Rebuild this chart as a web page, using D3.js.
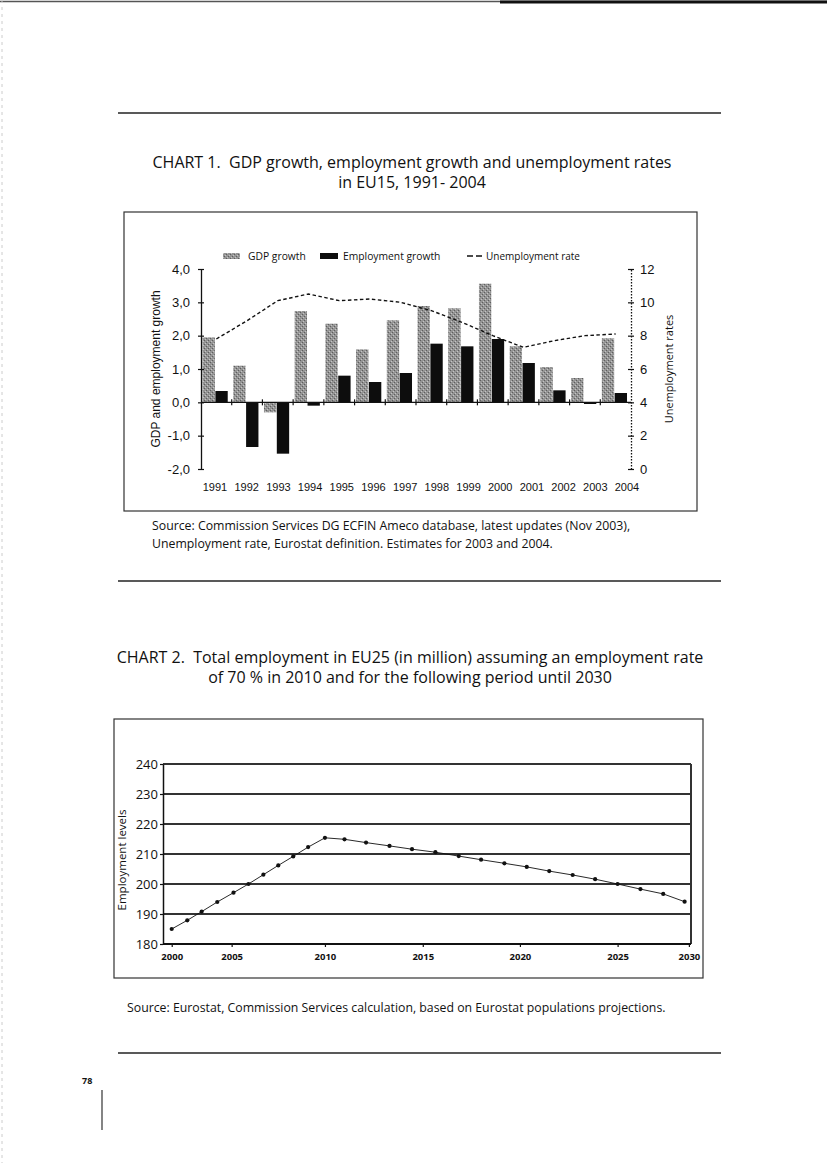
<!DOCTYPE html>
<html>
<head>
<meta charset="utf-8">
<script src="https://cdn.jsdelivr.net/npm/d3@7"></script>
<style>
  body { margin: 0; background: #fff; }
  svg text { fill: #111; }
</style>
</head>
<body>
<div id="page"></div>
<script>
// ---- chart 1 data (EU15, 1991-2004)
const years = [1991, 1992, 1993, 1994, 1995, 1996, 1997, 1998, 1999, 2000, 2001, 2002, 2003, 2004]
const gdpGrowth = [1.95, 1.1, -0.3, 2.74, 2.36, 1.59, 2.46, 2.89, 2.82, 3.56, 1.68, 1.06, 0.73, 1.92]
const empGrowth = [0.34, -1.34, -1.54, -0.1, 0.8, 0.61, 0.88, 1.76, 1.68, 1.9, 1.18, 0.36, -0.05, 0.28]
const unempRate = [7.8, 8.9, 10.1, 10.5, 10.1, 10.2, 10.0, 9.5, 8.8, 8.0, 7.3, 7.7, 8.0, 8.1]
const growthTicks = [-2, -1, 0, 1, 2, 3, 4]
const rateTicks = [0, 2, 4, 6, 8, 10, 12]

// ---- chart 2 data (EU25 employment, million)
const empYears = [2000, 2001.3, 2002.5, 2003.8, 2005.1, 2005.9, 2006.7, 2007.5, 2008.3, 2009.1, 2010,
  2011.0, 2012.1, 2013.3, 2014.45, 2015.65, 2016.85, 2018.0, 2019.2, 2020.35, 2021.5, 2022.7,
  2023.85, 2025.0, 2026.6, 2028.2, 2029.7]
const empLevels = [185.0, 187.9, 190.8, 194.0, 197.1, 200.0, 203.1, 206.2, 209.2, 212.3, 215.4,
  214.9, 213.8, 212.7, 211.6, 210.6, 209.3, 208.1, 206.9, 205.7, 204.3, 203.0,
  201.6, 200.0, 198.3, 196.7, 194.1]
const empTickYears = [2000, 2005, 2010, 2015, 2020, 2025, 2030]
const levelTicks = [180, 190, 200, 210, 220, 230, 240]

const W = 827, H = 1163
const humanist = "'Open Sans', 'Noto Sans', sans-serif"
const arial = "'Liberation Sans', Arial, sans-serif"

const svg = d3.select("#page").append("svg")
  .attr("width", W)
  .attr("height", H)

svg.append("rect").attr("width", W).attr("height", H).attr("fill", "#fff")

// stippled grey for the GDP bars
const pat = svg.append("defs").append("pattern")
  .attr("id", "stipple")
  .attr("patternUnits", "userSpaceOnUse")
  .attr("width", 4).attr("height", 4)
pat.append("rect").attr("width", 4).attr("height", 4).attr("fill", "#949494")
pat.append("rect").attr("x", 0).attr("y", 0).attr("width", 1).attr("height", 1).attr("fill", "#5e5e5e")
pat.append("rect").attr("x", 2).attr("y", 2).attr("width", 1).attr("height", 1).attr("fill", "#5e5e5e")
pat.append("rect").attr("x", 1).attr("y", 3).attr("width", 1).attr("height", 1).attr("fill", "#c4c4c4")
pat.append("rect").attr("x", 3).attr("y", 1).attr("width", 1).attr("height", 1).attr("fill", "#c4c4c4")

// ---- page furniture (scan edges, rules, page number)
svg.append("line").attr("x1", 0).attr("x2", W).attr("y1", 1.5).attr("y2", 1.5)
  .attr("stroke", "#555").attr("stroke-width", 1.5)
svg.append("line").attr("x1", 500).attr("x2", W).attr("y1", 2).attr("y2", 2)
  .attr("stroke", "#111").attr("stroke-width", 3)
svg.append("line").attr("x1", 2).attr("x2", 2).attr("y1", 0).attr("y2", H)
  .attr("stroke", "#ccc").attr("stroke-width", 1).attr("stroke-dasharray", "3,4")

const rules = [113, 581, 1053]
rules.forEach(y => {
  svg.append("line").attr("x1", 118).attr("x2", 721).attr("y1", y).attr("y2", y)
    .attr("stroke", "#222").attr("stroke-width", 1.3)
})
svg.append("text").attr("x", 82).attr("y", 1084)
  .style("font", "bold 9px " + humanist).text("78")
svg.append("line").attr("x1", 102).attr("x2", 102).attr("y1", 1090).attr("y2", 1130)
  .attr("stroke", "#333").attr("stroke-width", 1.2)

// ---- titles and sources
function textLines(lines, x, y0, lh, font, anchor) {
  lines.forEach((t, i) => {
    svg.append("text")
      .attr("x", x).attr("y", y0 + i * lh)
      .attr("text-anchor", anchor)
      .style("font", font)
      .style("white-space", "pre")
      .text(t)
  })
}
textLines(["CHART 1.\u00a0 GDP growth, employment growth and unemployment rates", "in EU15, 1991- 2004"],
  412, 168, 20, "16px " + humanist, "middle")
textLines(["Source: Commission Services DG ECFIN Ameco database, latest updates (Nov 2003),",
  "Unemployment rate, Eurostat definition. Estimates for 2003 and 2004."],
  152, 530, 18, "12.3px " + humanist, "start")
textLines(["CHART 2.\u00a0 Total employment in EU25 (in million) assuming an employment rate",
  "of 70 % in 2010 and for the following period until 2030"],
  410, 663, 20, "16px " + humanist, "middle")
textLines(["Source: Eurostat, Commission Services calculation, based on Eurostat populations projections."],
  127, 1012, 18, "12.3px " + humanist, "start")

// ================= CHART 1 =================
const c1 = { left: 201, right: 631, top: 269, bottom: 469 }
svg.append("rect").attr("x", 124).attr("y", 212).attr("width", 573).attr("height", 299)
  .attr("fill", "none").attr("stroke", "#333").attr("stroke-width", 1.2)

const x = d3.scaleBand().domain(years).range([c1.left, c1.right])
const xSub = d3.scaleBand().domain(["gdp", "emp"])
  .range([x.bandwidth() * 0.05, x.bandwidth() * 0.87]).paddingInner(0.04)
const y = d3.scaleLinear().domain([-2, 4]).range([c1.bottom, c1.top])
const yR = d3.scaleLinear().domain([0, 12]).range([c1.bottom, c1.top])
const xLabel = d3.scalePoint().domain(years).range([c1.left + 14, c1.right - 4])

const g1 = svg.append("g")

// bars
g1.selectAll("rect.gdp").data(years).join("rect")
  .attr("class", "gdp")
  .attr("x", (d, i) => x(d) + xSub("gdp"))
  .attr("width", xSub.bandwidth())
  .attr("y", (d, i) => y(Math.max(0, gdpGrowth[i])))
  .attr("height", (d, i) => Math.abs(y(gdpGrowth[i]) - y(0)))
  .attr("fill", "url(#stipple)")

g1.selectAll("rect.emp").data(years).join("rect")
  .attr("class", "emp")
  .attr("x", (d, i) => x(d) + xSub("emp"))
  .attr("width", xSub.bandwidth())
  .attr("y", (d, i) => y(Math.max(0, empGrowth[i])))
  .attr("height", (d, i) => Math.max(1.5, Math.abs(y(empGrowth[i]) - y(0))))
  .attr("fill", "#0d0d0d")

// zero line with category ticks
g1.append("line").attr("x1", c1.left).attr("x2", c1.right)
  .attr("y1", y(0)).attr("y2", y(0)).attr("stroke", "#111").attr("stroke-width", 1.3)
g1.selectAll("line.cat").data(years.slice(1)).join("line")
  .attr("class", "cat")
  .attr("x1", d => x(d)).attr("x2", d => x(d))
  .attr("y1", y(0) - 3).attr("y2", y(0) + 3)
  .attr("stroke", "#111").attr("stroke-width", 1.2)

// unemployment line
const uLine = d3.line()
  .x((d, i) => x(years[i]) + x.bandwidth() / 2)
  .y(d => yR(d))
g1.append("path").datum(unempRate)
  .attr("d", uLine)
  .attr("fill", "none").attr("stroke", "#111")
  .attr("stroke-width", 1.4).attr("stroke-dasharray", "3.5,2.5")

// left axis
const axL = g1.append("g").attr("transform", `translate(${c1.left},0)`)
  .call(d3.axisLeft(y).tickValues(growthTicks).tickSize(3).tickSizeOuter(0).tickPadding(8)
    .tickFormat(d => d3.format(".1f")(d).replace(".", ",").replace("−", "-")))
axL.select(".domain").attr("stroke", "#111").attr("stroke-width", 1.3)
axL.selectAll(".tick line").attr("x1", 3).attr("stroke", "#111").attr("stroke-width", 1.2)
axL.selectAll(".tick text").style("font", "13px " + arial).attr("fill", "#111")

// right axis (dotted)
const axR = g1.append("g").attr("transform", `translate(${c1.right},0)`)
  .call(d3.axisRight(yR).tickValues(rateTicks).tickSize(3).tickSizeOuter(0).tickPadding(6))
axR.select(".domain").attr("stroke", "#111").attr("stroke-width", 1.3).attr("stroke-dasharray", "1.5,1.5")
axR.selectAll(".tick line").attr("x1", -3).attr("stroke", "#111").attr("stroke-width", 1.2)
axR.selectAll(".tick text").style("font", "13px " + arial).attr("fill", "#111")

// year labels along the bottom
g1.selectAll("text.yr").data(years).join("text")
  .attr("class", "yr")
  .attr("x", d => xLabel(d)).attr("y", c1.bottom + 22)
  .attr("text-anchor", "middle")
  .style("font", "11px " + arial)
  .text(d => d)

// axis titles
g1.append("text")
  .attr("transform", `translate(160,${(c1.top + c1.bottom) / 2}) rotate(-90)`)
  .attr("text-anchor", "middle")
  .style("font", "12px " + arial)
  .text("GDP and employment growth")
g1.append("text")
  .attr("transform", `translate(673,${(c1.top + c1.bottom) / 2}) rotate(-90)`)
  .attr("text-anchor", "middle")
  .style("font", "11px " + humanist)
  .text("Unemployment rates")

// legend
const lg = g1.append("g").attr("transform", "translate(0,256)")
lg.append("rect").attr("x", 223).attr("y", -3).attr("width", 17).attr("height", 6).attr("fill", "url(#stipple)")
lg.append("text").attr("x", 248).attr("dy", "0.35em").style("font", "10.3px " + humanist).text("GDP growth")
lg.append("rect").attr("x", 320).attr("y", -3).attr("width", 18).attr("height", 6).attr("fill", "#0d0d0d")
lg.append("text").attr("x", 343).attr("dy", "0.35em").style("font", "10.3px " + humanist).text("Employment growth")
lg.append("line").attr("x1", 467).attr("x2", 482).attr("stroke", "#111").attr("stroke-width", 1.5)
  .attr("stroke-dasharray", "6,3")
lg.append("text").attr("x", 486).attr("dy", "0.35em").style("font", "10px " + humanist).text("Unemployment rate")

// ================= CHART 2 =================
const c2 = { left: 163, right: 691, top: 764, bottom: 944 }
svg.append("rect").attr("x", 114).attr("y", 719).attr("width", 589).attr("height", 259)
  .attr("fill", "none").attr("stroke", "#333").attr("stroke-width", 1.2)

const pw = c2.right - c2.left
// year axis of the original is not evenly spaced
const x2 = d3.scaleLinear().domain(empTickYears)
  .range([0.0165, 0.130, 0.3067, 0.492, 0.676, 0.861, 0.996].map(f => c2.left + f * pw))
const y2 = d3.scaleLinear().domain([180, 240]).range([c2.bottom, c2.top])

const g2 = svg.append("g")

// gridlines
g2.selectAll("line.grid").data(levelTicks.slice(1)).join("line")
  .attr("class", "grid")
  .attr("x1", c2.left).attr("x2", c2.right)
  .attr("y1", d => y2(d)).attr("y2", d => y2(d))
  .attr("stroke", "#333").attr("stroke-width", 2)
g2.append("line").attr("x1", c2.right).attr("x2", c2.right)
  .attr("y1", c2.top).attr("y2", c2.bottom)
  .attr("stroke", "#333").attr("stroke-width", 2)

const axY2 = g2.append("g").attr("transform", `translate(${c2.left},0)`)
  .call(d3.axisLeft(y2).tickValues(levelTicks).tickSize(3).tickSizeOuter(0).tickPadding(2))
axY2.select(".domain").attr("stroke", "#111").attr("stroke-width", 1.5)
axY2.selectAll(".tick line").attr("stroke", "#111").attr("stroke-width", 1.2)
axY2.selectAll(".tick text").style("font", "13px " + humanist).attr("fill", "#111")

const axX2 = g2.append("g").attr("transform", `translate(0,${c2.bottom})`)
  .call(d3.axisBottom(x2).tickValues(empTickYears).tickSize(3).tickSizeOuter(0).tickPadding(6)
    .tickFormat(d3.format("d")))
axX2.select(".domain").attr("stroke", "#111").attr("stroke-width", 2.2)
  .attr("d", `M${c2.left},0H${c2.right}`)
axX2.selectAll(".tick line").attr("stroke", "#111").attr("stroke-width", 1.2)
axX2.selectAll(".tick text").style("font", "bold 9.5px " + humanist).attr("fill", "#111")

g2.append("text")
  .attr("transform", `translate(126,${(c2.top + c2.bottom) / 2 + 6}) rotate(-90)`)
  .attr("text-anchor", "middle")
  .style("font", "11.5px " + humanist)
  .text("Employment levels")

const empLine = d3.line().x((d, i) => x2(empYears[i])).y(d => y2(d))
g2.append("path").datum(empLevels)
  .attr("d", empLine)
  .attr("fill", "none").attr("stroke", "#111").attr("stroke-width", 0.9)
g2.selectAll("circle").data(empLevels).join("circle")
  .attr("cx", (d, i) => x2(empYears[i]))
  .attr("cy", d => y2(d))
  .attr("r", 2.1)
  .attr("fill", "#111")
</script>
</body>
</html>
